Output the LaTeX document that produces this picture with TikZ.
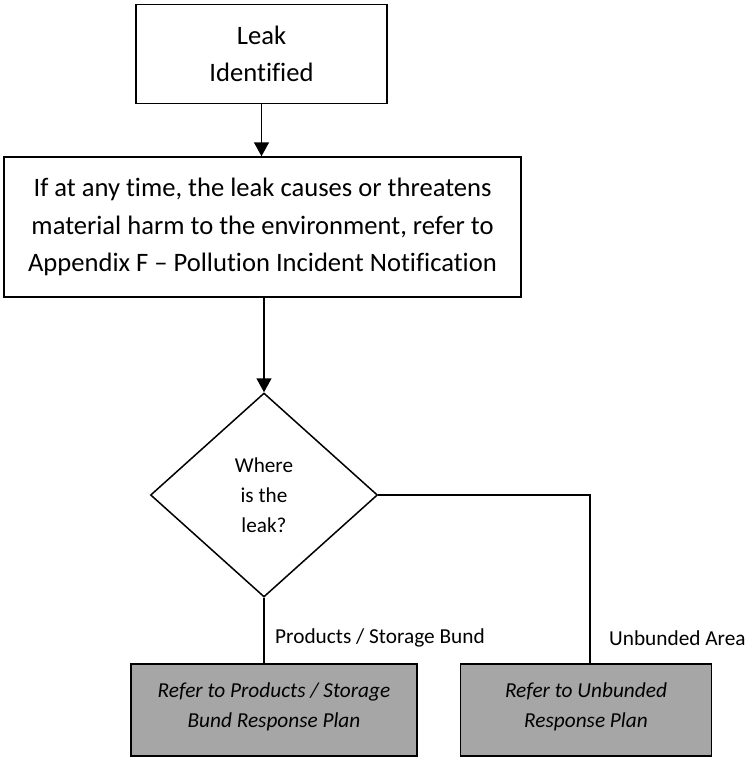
\documentclass[tikz,border=0pt]{standalone}
\usepackage{fontspec}
\setmainfont{Carlito}[Ligatures=NoCommon]
\usetikzlibrary{shapes.geometric,arrows.meta}

\definecolor{planfill}{HTML}{A6A6A6}
\tikzset{
  flowbox/.style={draw=black, line width=1.5pt, fill=white, align=center, inner sep=0pt},
  planbox/.style={draw=black, line width=1.5pt, fill=planfill, align=center, inner sep=0pt,
    font=\fontsize{21.3}{30}\selectfont\itshape},
  decision/.style={draw=black, line width=1.5pt, fill=white, diamond, align=center, inner sep=0pt,
    font=\fontsize{21.2}{30}\selectfont},
  link/.style={line width=1.5pt, draw=black},
  flow/.style={link, -{Triangle[width=15pt,length=14pt]}},
  branchlabel/.style={anchor=west, inner sep=0pt, font=\fontsize{21.3}{24}\selectfont}
}

\begin{document}
\begin{tikzpicture}[x=1pt, y=-1pt]
  \useasboundingbox (0,0) rectangle (748,757);

  % start and notice boxes
  \node[flowbox, minimum width=251pt, minimum height=99pt,
        font=\fontsize{26.6}{37}\selectfont] (leak) at (261.5,54) {Leak\\Identified};
  \node[flowbox, minimum width=517pt, minimum height=140pt,
        font=\fontsize{26.6}{37.5}\selectfont] (notice) at (262.5,227)
    {If at any time, the leak causes or threatens\\
     material harm to the environment, refer to\\
     Appendix F -- Pollution Incident Notification};

  % decision
  \node[decision, minimum width=227pt, minimum height=204pt] (where) at (264,495)
    {Where\\is the\\leak?};

  % response plans (text sits in the upper part of each box)
  \node[planbox, minimum width=286pt, minimum height=92pt] (bund) at (274,710)
    {Refer to Products / Storage\\Bund Response Plan\\[-20pt]\mbox{}};
  \node[planbox, minimum width=251pt, minimum height=92pt] (unbund) at (586,710)
    {Refer to Unbunded\\Response Plan\\[-20pt]\mbox{}};

  % connectors
  \draw[flow] (leak.south) -- (leak.south |- notice.north);
  \draw[flow] (where.north |- notice.south) -- (where.north);
  \draw[link] (where.south) -- (where.south |- bund.north);
  \draw[link] (where.east) -| ([xshift=4pt]unbund.north);

  % branch labels
  \node[branchlabel] (lblbund) at (275,638) {Products / Storage Bund};
  \node[branchlabel] (lblunbund) at (609,638) {Unbunded Area};
\end{tikzpicture}
\end{document}
